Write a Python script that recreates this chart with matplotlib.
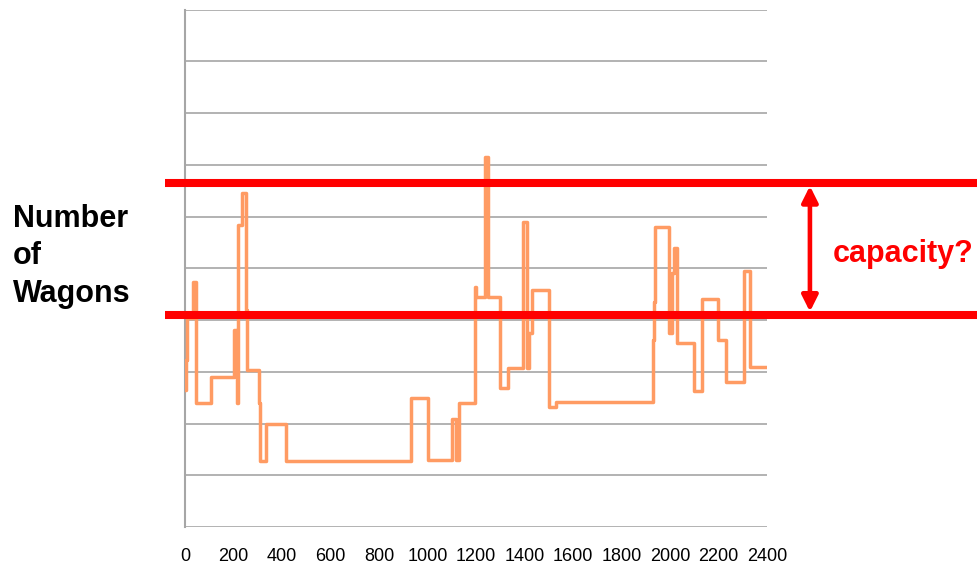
import matplotlib
matplotlib.use('Agg')
import matplotlib.pyplot as plt

plt.rcParams['font.family'] = ['Liberation Sans', 'DejaVu Sans']

# step changes: time where the level starts, number of wagons from then on
t = [0, 4, 8, 33, 45, 107, 202, 214, 219, 235, 252, 256, 305, 309, 334, 416,
     932, 1002, 1101, 1118, 1130, 1196, 1200, 1237, 1249, 1299, 1332, 1394, 1410,
     1419, 1431, 1501, 1530, 1930, 1934, 1940, 1996, 2008, 2016, 2029, 2099,
     2132, 2198, 2231, 2305, 2330, 2400]
wagons = [2.65, 3.23, 4.04, 4.73, 2.40, 2.90, 3.81, 2.40, 5.84, 6.45, 4.19, 3.03,
          2.40, 1.28, 1.99, 1.28, 2.49, 1.29, 2.09, 1.29, 2.40, 4.64, 4.44, 7.15,
          4.44, 2.69, 3.07, 5.89, 3.07, 3.75, 4.58, 2.32, 2.42, 3.61, 4.35, 5.80,
          3.75, 4.91, 5.39, 3.56, 2.63, 4.41, 3.61, 2.80, 4.95, 3.09, 3.09]

cap_high = 6.65
cap_low = 4.10
xticks = list(range(0, 2401, 200))

fig = plt.figure(figsize=(9.78, 5.65), dpi=100)
ax = fig.add_axes([185/978, 38/565, 582/978, 517.5/565])

ax.step(t, wagons, where='post', color='#ff9b63', lw=2.5, zorder=3)

ax.set_xlim(0, 2400)
ax.set_ylim(0, 10)
ax.set_xticks(xticks)
ax.set_xticklabels([str(v) for v in xticks], fontsize=13)
ax.set_yticks(range(11))
ax.set_yticklabels([])
ax.tick_params(length=0, pad=15)
ax.grid(axis='y', color='#a6a6a6', lw=1.2)
ax.set_axisbelow(True)
for s in ['top', 'right', 'bottom']:
    ax.spines[s].set_visible(False)
ax.spines['left'].set_color('#a6a6a6')
ax.spines['left'].set_linewidth(1.5)

# capacity band lines, running past the plot area to the right edge
for lvl in [cap_high, cap_low]:
    ax.plot([-82, 3400], [lvl, lvl], color='red', lw=5.8, clip_on=False, zorder=4,
            solid_capstyle='butt')

ax.annotate('', xy=(2577, cap_high - 0.06), xytext=(2577, cap_low + 0.06),
            arrowprops=dict(arrowstyle='<|-|>', color='red', lw=3.3,
                            mutation_scale=24, shrinkA=0, shrinkB=0),
            annotation_clip=False)
ax.text(2672, 5.12, 'capacity?', color='red', fontsize=22, fontweight='bold',
        va='baseline', ha='left', clip_on=False)

for lab, yb in [('Number', 227), ('of', 264), ('Wagons', 302)]:
    fig.text(13/978, 1 - yb/565, lab, fontsize=22, fontweight='bold',
             va='baseline', ha='left')

fig.savefig('out.png', dpi=100)
